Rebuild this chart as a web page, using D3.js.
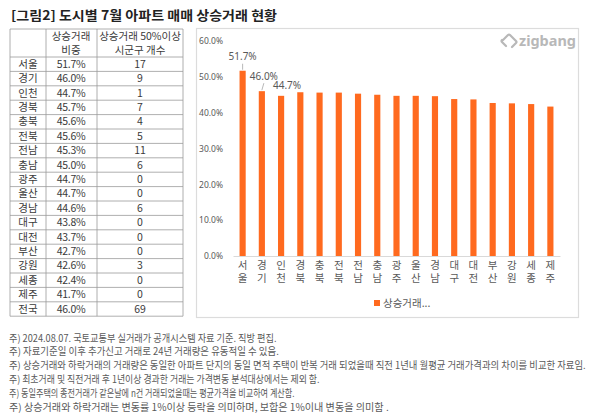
<!DOCTYPE html>
<html>
<head>
<meta charset="utf-8">
<script src="https://cdn.jsdelivr.net/npm/d3@7"></script>
<style>
  body { margin: 0; background: #fff; }
  svg text { font-family: "Noto Sans CJK KR", "Noto Sans", sans-serif; }
</style>
</head>
<body>
<svg id="figure" width="600" height="419"></svg>
<script>
var regions = ['서울','경기','인천','경북','충북','전북','전남','충남','광주','울산','경남','대구','대전','부산','강원','세종','제주'],
	shares = [51.7, 46.0, 44.7, 45.7, 45.6, 45.6, 45.3, 45.0, 44.7, 44.7, 44.6, 43.8, 43.7, 42.7, 42.6, 42.4, 41.7],
	counts = [17, 9, 1, 7, 4, 5, 11, 6, 0, 0, 6, 0, 0, 0, 3, 0, 0],
	totalLabel = '전국',
	totalShare = 46.0,
	totalCount = 69,
	yTicks = [0, 0.1, 0.2, 0.3, 0.4, 0.5, 0.6],
	seriesName = '상승거래...',
	title = '[그림2] 도시별 7월 아파트 매매 상승거래 현황',
	notes = [
		'주) 2024.08.07. 국토교통부 실거래가 공개시스템 자료 기준. 직방 편집.',
		'주) 자료기준일 이후 추가신고 거래로 24년 거래량은 유동적일 수 있음.',
		'주) 상승거래와 하락거래의 거래량은 동일한 아파트 단지의 동일 면적 주택이 반복 거래 되었을때 직전 1년내 월평균 거래가격과의 차이를 비교한 자료임.',
		'주)  최초거래 및 직전거래 후 1년이상 경과한 거래는 가격변동 분석대상에서는 제외 함.',
		'주) 동일주택의 종전거래가 같은날에 n건 거래되었을때는 평균가격을 비교하여  계산함.',
		'주) 상승거래와 하락거래는 변동률 1%이상 등락을 의미하며, 보합은 1%이내 변동을 의미함 .'
	];

var vis = d3.select("#figure"),
	orange = '#ff6a1f',
	grey = '#595959',
	lineGrey = '#9a9a9a';

// title
vis.append("text")
	.attr("x", 11).attr("y", 15).attr("dy", "0.35em")
	.attr("font-size", 13).attr("font-weight", "bold").attr("fill", "#222")
	.attr("textLength", 266).attr("lengthAdjust", "spacingAndGlyphs")
	.text(title);

// ---- table ----
var colX = [10, 46, 97, 183],
	tableTop = 29,
	headBottom = 57,
	rowH = 14.4;

var rows = regions.map(function(r, i){ return [r, shares[i].toFixed(1) + '%', String(counts[i])]; });
rows.push([totalLabel, totalShare.toFixed(1) + '%', String(totalCount)]);

var tableBottom = headBottom + rows.length * rowH;
var tbl = vis.append("g");

// horizontal lines
var hLines = [tableTop, headBottom].concat(rows.map(function(d, i){ return headBottom + (i + 1) * rowH; }));
tbl.selectAll("line.h").data(hLines).enter().append("line")
	.attr("x1", colX[0]).attr("x2", colX[3])
	.attr("y1", function(d){ return d; }).attr("y2", function(d){ return d; })
	.attr("stroke", lineGrey).attr("stroke-width", 0.8);
tbl.selectAll("line.v").data(colX).enter().append("line")
	.attr("x1", function(d){ return d; }).attr("x2", function(d){ return d; })
	.attr("y1", tableTop).attr("y2", tableBottom)
	.attr("stroke", lineGrey).attr("stroke-width", 0.8);

var colMid = [28, 71, 140];
var heads = [['상승거래', '비중'], ['상승거래 50%이상', '시군구 개수']];
heads.forEach(function(h, c){
	h.forEach(function(t, k){
		tbl.append("text")
			.attr("x", colMid[c + 1]).attr("y", 36 + k * 14).attr("dy", "0.35em")
			.attr("text-anchor", "middle").attr("font-size", 10.5).attr("fill", "#3a3a3a")
			.text(t);
	});
});

rows.forEach(function(r, i){
	r.forEach(function(t, c){
		tbl.append("text")
			.attr("x", colMid[c]).attr("y", headBottom + i * rowH + rowH / 2).attr("dy", "0.35em")
			.attr("text-anchor", "middle").attr("font-size", 10.5).attr("fill", "#3a3a3a")
			.attr("letter-spacing", c == 1 ? -0.3 : 0)
			.text(t);
	});
});

// ---- chart panel ----
vis.append("rect")
	.attr("x", 196.5).attr("y", 28.5).attr("width", 382).attr("height", 289)
	.attr("fill", "#fff").attr("stroke", "#dcdcdc").attr("stroke-width", 1.2);

var x = d3.scaleBand().domain(regions).range([233, 560]).paddingInner(0.68).paddingOuter(0.34),
	y = d3.scaleLinear().domain([0, 0.6]).range([256, 41]);

var yAxis = vis.append("g").attr("transform", "translate(226,0)")
	.call(d3.axisLeft(y).tickValues(yTicks).tickFormat(d3.format(".1%")).tickSize(0).tickPadding(3));
yAxis.select(".domain").remove();
yAxis.selectAll("text").attr("font-size", 8.5).attr("fill", grey)
	.style("font-family", '"Noto Sans", sans-serif');

var bars = vis.selectAll("rect.bar")
	.data(shares)
	.enter()
	.append("rect")
	.attr("class", "bar")
	.attr("x", function(d, i){ return x(regions[i]); })
	.attr("y", function(d){ return y(d / 100); })
	.attr("width", x.bandwidth())
	.attr("height", function(d){ return y(0) - y(d / 100); })
	.attr("fill", orange);

var xAxis = vis.append("g").attr("transform", "translate(0,256)")
	.call(d3.axisBottom(x).tickSize(0).tickFormat(""));
xAxis.select(".domain").attr("stroke", "#d9d9d9").attr("stroke-width", 1.2);
xAxis.selectAll(".tick").each(function(d){
	var t = d3.select(this).append("text")
		.attr("fill", grey).attr("font-size", 10.5).attr("text-anchor", "middle");
	d.split("").forEach(function(ch, k){
		t.append("tspan").attr("x", 0).attr("y", 9 + k * 13.5).attr("dy", "0.35em").text(ch);
	});
});

// data labels (moved labels as in the source, with leader lines)
var labelOffsets = [[0, -14], [2, -15], [6, -10]];
labelOffsets.forEach(function(o, i){
	var cx = x(regions[i]) + x.bandwidth() / 2,
		top = y(shares[i] / 100);
	vis.append("text")
		.attr("x", cx + o[0]).attr("y", top + o[1]).attr("dy", "0.35em")
		.attr("text-anchor", "middle").attr("font-size", 10).attr("fill", grey)
		.style("font-family", '"Noto Sans", sans-serif')
		.text(shares[i].toFixed(1) + '%');
	if (o[1] < -12) {
		vis.append("line")
			.attr("x1", cx + o[0]).attr("y1", top + o[1] + 7)
			.attr("x2", cx).attr("y2", top - 1)
			.attr("stroke", "#a6a6a6").attr("stroke-width", 0.8);
	}
});

// legend
vis.append("rect").attr("x", 374).attr("y", 300).attr("width", 6).attr("height", 6).attr("fill", orange);
vis.append("text").attr("x", 383).attr("y", 303).attr("dy", "0.35em")
	.attr("font-size", 10.5).attr("fill", grey).text(seriesName);

// zigbang logo
var logo = vis.append("g").attr("transform", "translate(509,41)");
logo.append("path")
	.attr("d", "M-6,-1 L-1,-6 Q0,-7 1,-6 L7,0 Q8,1 7,2 L3,6 M-3,5 L-7,1 Q-8,0 -7,-1")
	.attr("fill", "none").attr("stroke", "#b8b8b8").attr("stroke-width", 2.2)
	.attr("stroke-linecap", "round");
vis.append("text").attr("x", 519).attr("y", 46)
	.attr("font-size", 14).attr("font-weight", "bold").attr("fill", "#b8b8b8")
	.attr("textLength", 57).attr("lengthAdjust", "spacingAndGlyphs")
	.style("font-family", '"Noto Sans", sans-serif')
	.text("zigbang");

// footnotes: squeeze horizontally to the widths seen in the source
var noteEnds = [277, 279, 586, 320, 295, 389];
vis.selectAll("text.note").data(notes).enter().append("text")
	.attr("class", "note")
	.attr("dy", "0.35em")
	.attr("font-size", 10).attr("fill", grey)
	.text(function(d){ return d; })
	.each(function(d, i){
		var natural = this.getComputedTextLength(),
			sx = (noteEnds[i] - 9) / natural;
		d3.select(this).attr("transform", "translate(9," + (338 + i * 13.8) + ") scale(" + sx + ",1)");
	});
</script>
</body>
</html>
